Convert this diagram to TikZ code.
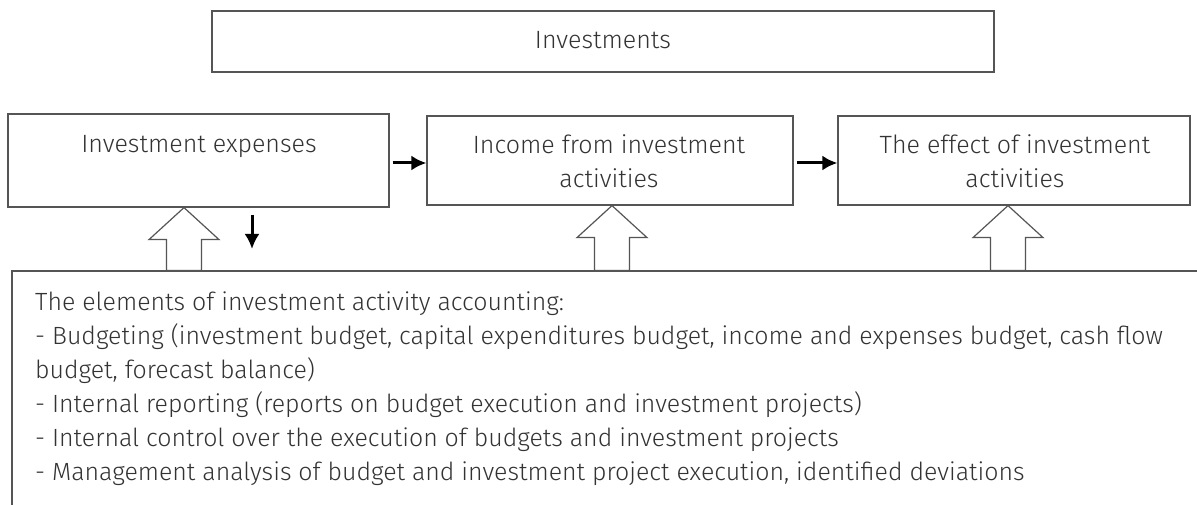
\documentclass[tikz,border=0pt]{standalone}
\usepackage{fontspec}
\setmainfont{Fira Sans Light}
\usetikzlibrary{arrows.meta,calc}
\definecolor{txtc}{HTML}{333333}
\definecolor{linec}{HTML}{555555}
\newcommand\blockup[3]{%
  \coordinate (bt) at (#2.south -| #1);
  \coordinate (bb) at (#3.north -| #1);
  \draw[blk] (bt) -- ($(bt)+(35,32)$) -- ($(bt)+(17.5,32)$) -- ($(bb)+(17.5,0)$)
    -- ($(bb)+(-17.5,0)$) -- ($(bt)+(-17.5,32)$) -- ($(bt)+(-35,32)$) -- cycle;}
\begin{document}
\begin{tikzpicture}[x=1pt,y=-1pt,
  box/.style={draw=linec, line width=1.2pt, inner sep=0pt, rectangle, fill=white},
  lbl/.style={text=txtc, inner sep=0pt, font=\fontsize{25}{34}\selectfont, align=center},
  body/.style={text=txtc, inner sep=0pt, font=\fontsize{24.9}{34}\selectfont, align=left},
  blk/.style={draw=linec, line width=1.2pt, fill=white, line join=miter},
  harr/.style={draw=black, line width=3pt, -{Latex[length=15pt,width=15pt]}}]
\useasboundingbox (0,0) rectangle (1197,505);
\clip (0,0) rectangle (1197,505);
\fill[white] (0,0) rectangle (1197,505);

\node[box, minimum width=782, minimum height=61] (inv) at (603,41.5) {};
\node[lbl, anchor=base] (invt) at (603,49) {Investments};

\node[box, minimum width=381, minimum height=93] (b1) at (198.5,160.5) {};
\node[box, minimum width=366, minimum height=89] (b2) at (610,160.5) {};
\node[box, minimum width=352, minimum height=89] (b3) at (1014,160.5) {};

\node[lbl, anchor=base] (b1t) at (199,153) {Investment expenses};
\node[lbl, anchor=north] (b2t) at (609,134) {Income from investment\\activities};
\node[lbl, anchor=north] (b3t) at (1015,134) {The effect of investment\\activities};

\node[box, minimum width=1238, minimum height=289] (el) at (631,415.5) {};
\node[body, anchor=north west] (elt) at (35,292) {The elements of investment activity accounting:\\
- Budgeting (investment budget, capital expenditures budget, income and expenses budget, cash flow\\
budget, forecast balance)\\
- Internal reporting (reports on budget execution and investment projects)\\
- Internal control over the execution of budgets and investment projects\\
- Management analysis of budget and investment project execution, identified deviations};

\draw[harr] ([shift={(3,2.5)}]b1.east) -- ([yshift=-2.5pt]b2.west);
\draw[harr] ([shift={(3,2.5)}]b2.east) -- ([yshift=-2.5pt]b3.west);

\coordinate (d1) at (252,215);
\coordinate (d2) at (252,249);
\draw[harr] (d1) -- (d2);

\coordinate (a1) at (184,0);
\coordinate (a2) at (612,0);
\coordinate (a3) at (1008,0);
\blockup{a1}{b1}{el}
\blockup{a2}{b2}{el}
\blockup{a3}{b3}{el}
\end{tikzpicture}
\end{document}
